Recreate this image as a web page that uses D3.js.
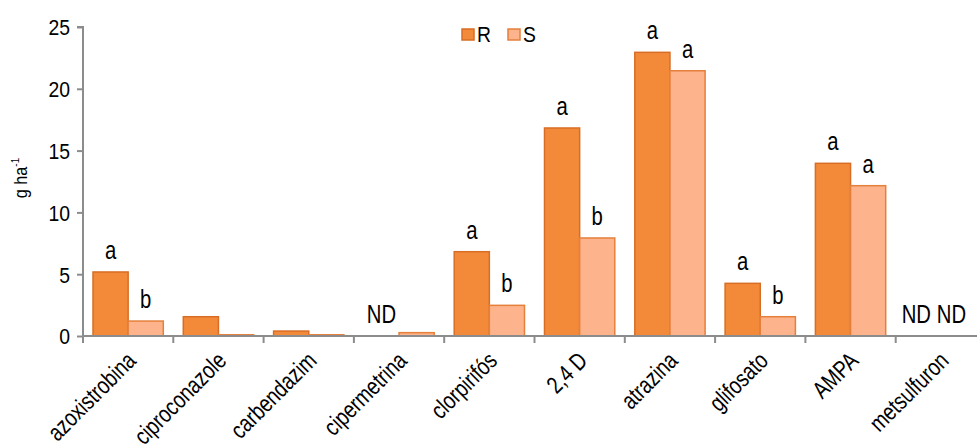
<!DOCTYPE html>
<html><head><meta charset="utf-8">
<script src="https://cdn.jsdelivr.net/npm/d3@7"></script>
<style>
body{margin:0;background:#fff;}
text{font-family:"Liberation Sans",Arial,sans-serif;fill:#000;}
</style></head><body>
<svg id="c" width="977" height="448"></svg>
<script>
const categories = ["azoxistrobina","ciproconazole","carbendazim","cipermetrina","clorpirifós","2,4 D","atrazina","glifosato","AMPA","metsulfuron"];
const seriesNames = ["R","S"];
const valuesR = [5.18, 1.56, 0.4, 0, 6.82, 16.83, 22.95, 4.26, 13.97, 0];
const valuesS = [1.21, 0.1, 0.1, 0.27, 2.48, 7.93, 21.46, 1.56, 12.16, 0];
const lettersR = ["a","","","ND","a","a","a","a","a","ND"];
const lettersS = ["b","","","","b","b","a","b","a","ND"];
const yTicks = [0,5,10,15,20,25];

const svg = d3.select("#c");
const mLeft = 83, mRight = 986, mTop = 27, mBottom = 336;
const x = d3.scaleBand().domain(categories).range([mLeft, mRight]).paddingInner(0).paddingOuter(0);
const inner = d3.scaleBand().domain(seriesNames).range([10, x.bandwidth()-10]);
const y = d3.scaleLinear().domain([0,25]).range([mBottom, mTop]);
const fills = {R:"#F38A3A", S:"#FDB38B"};
const strokes = {R:"#D86E25", S:"#E5803C"};

const data = [];
categories.forEach((c,i)=>{
  data.push({c, s:"R", v:valuesR[i], l:lettersR[i]});
  data.push({c, s:"S", v:valuesS[i], l:lettersS[i]});
});
svg.append("g").selectAll("rect").data(data.filter(d=>d.v>0)).join("rect")
  .attr("x", d=>x(d.c)+inner(d.s))
  .attr("y", d=>y(d.v))
  .attr("width", inner.bandwidth())
  .attr("height", d=>y(0)-y(d.v))
  .attr("fill", d=>fills[d.s])
  .attr("stroke", d=>strokes[d.s])
  .attr("stroke-width", 1.5);

// significance letters (narrow)
svg.append("g").selectAll("text").data(data.filter(d=>d.l)).join("text")
  .attr("transform", d=>{
    const cx = x(d.c)+inner(d.s)+inner.bandwidth()/2 - (d.l==="ND" && d.c==="metsulfuron" ? 7 : 0);
    return `translate(${cx},${y(d.v)-13}) scale(0.78,1)`;
  })
  .attr("text-anchor","middle")
  .attr("font-size", 26)
  .text(d=>d.l);

// y axis
const yAxis = d3.axisLeft(y).tickValues(yTicks).tickSize(6).tickPadding(0).tickFormat("");
const gy = svg.append("g").attr("transform",`translate(${mLeft},0)`).call(yAxis);
gy.select(".domain").attr("stroke","#8c8c8c").attr("stroke-width",2).attr("d",`M-6,${mTop}H0V${mBottom}`);
gy.selectAll(".tick line").attr("stroke","#8c8c8c").attr("stroke-width",2);
gy.selectAll(".tick").append("text")
  .attr("transform","translate(-13,0) scale(0.88,1)")
  .attr("text-anchor","end").attr("dy","0.36em").attr("font-size",22)
  .attr("fill","#000")
  .text(d=>d);

// x axis
const gx = svg.append("g").attr("transform",`translate(0,${mBottom})`);
gx.append("line").attr("x1",mLeft).attr("x2",977).attr("y1",0).attr("y2",0)
  .attr("stroke","#8c8c8c").attr("stroke-width",2);
const bounds = categories.map(c=>x(c)).concat([x(categories[categories.length-1])+x.bandwidth()]);
gx.selectAll("line.t").data(bounds).join("line").attr("class","t")
  .attr("x1",d=>d).attr("x2",d=>d).attr("y1",0).attr("y2",7)
  .attr("stroke","#8c8c8c").attr("stroke-width",2);
gx.selectAll("text").data(categories).join("text")
  .attr("transform",d=>`translate(${x(d)+x.bandwidth()/2-3},${14}) rotate(-45) scale(0.8,1)`)
  .attr("text-anchor","end")
  .attr("dy","0.72em")
  .attr("font-size",24)
  .text(d=>d);

// y label
const yl = svg.append("text").attr("transform","translate(27,178) rotate(-90) scale(0.9,1)")
  .attr("text-anchor","middle").attr("font-size",18);
yl.append("tspan").text("g ha");
yl.append("tspan").attr("font-size",11).attr("dy",-8).text("-1");

// legend
const lg = svg.append("g").attr("transform","translate(462,29)");
seriesNames.forEach((s,i)=>{
  const g = lg.append("g").attr("transform",`translate(${i*46},0)`);
  g.append("rect").attr("width",12).attr("height",11).attr("fill",fills[s]).attr("stroke",strokes[s]).attr("stroke-width",1.5);
  g.append("text").attr("transform","translate(15,12.5) scale(0.88,1)").attr("font-size",22).text(s);
});
</script></body></html>
